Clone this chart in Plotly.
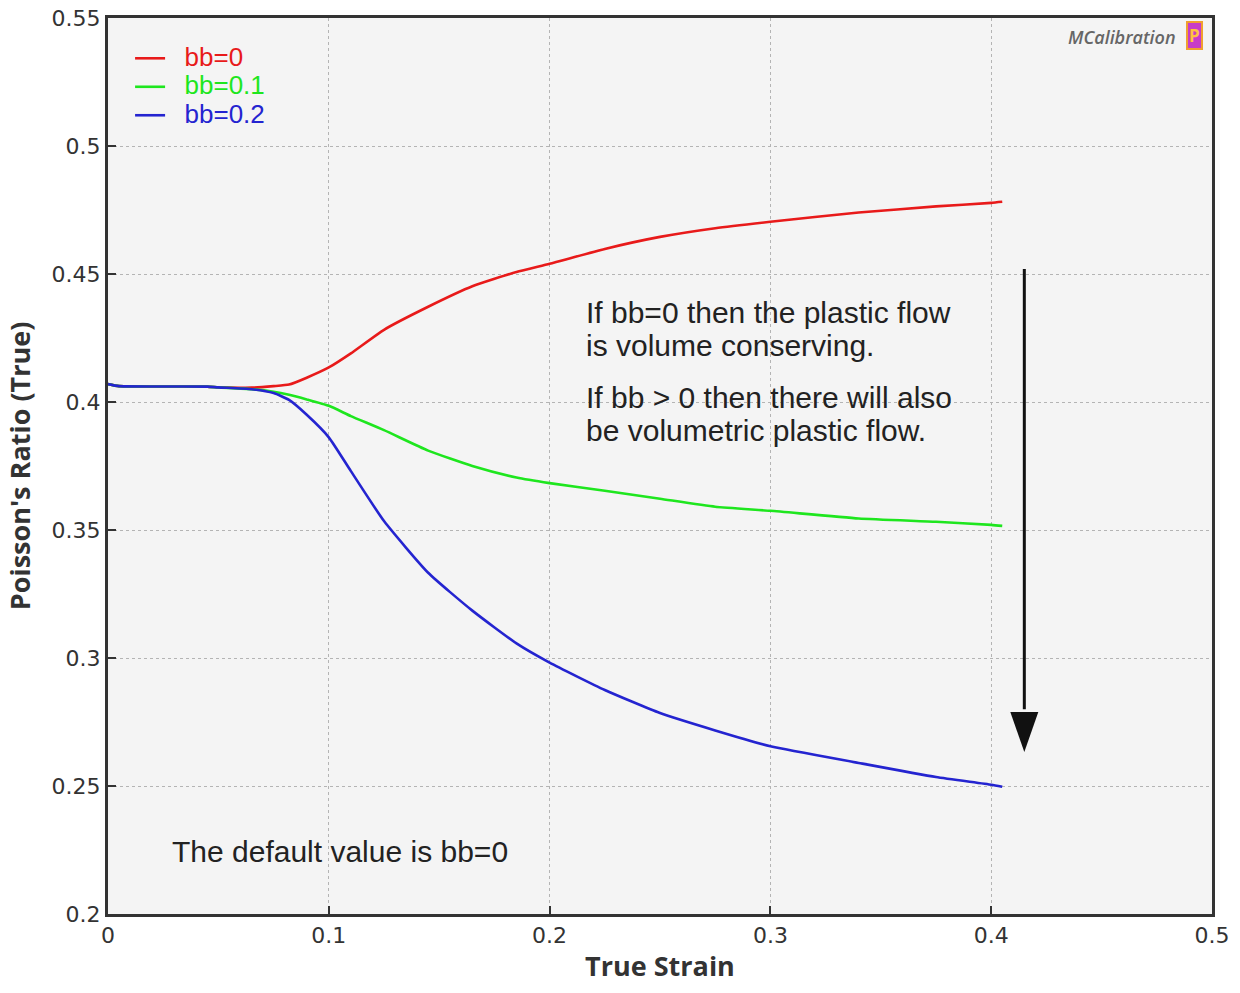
import plotly.graph_objects as go

strain = [0.0, 0.005, 0.045, 0.05, 0.065, 0.075, 0.082, 0.09, 0.1, 0.11, 0.125, 0.145,
          0.165, 0.185, 0.2, 0.225, 0.25, 0.275, 0.3, 0.34, 0.375, 0.4, 0.405]
pr_bb0 = [0.407, 0.4062, 0.4060, 0.4057, 0.4056, 0.4062, 0.4068, 0.4095, 0.4135, 0.4190,
          0.4282, 0.4372, 0.4452, 0.4508, 0.4540, 0.4598, 0.4645, 0.4679, 0.4704, 0.4740,
          0.4764, 0.4778, 0.4782]
pr_bb01 = [0.407, 0.4062, 0.4060, 0.4057, 0.4050, 0.4040, 0.4028, 0.4010, 0.3985, 0.3945,
           0.3890, 0.3810, 0.3750, 0.3705, 0.3683, 0.3653, 0.3622, 0.3591, 0.3575, 0.3545,
           0.3532, 0.3520, 0.3516]
pr_bb02 = [0.407, 0.4062, 0.4060, 0.4057, 0.4050, 0.4035, 0.4008, 0.3950, 0.3862, 0.3730,
           0.3535, 0.3333, 0.3185, 0.3057, 0.2982, 0.2875, 0.2785, 0.2717, 0.2655, 0.2590,
           0.2535, 0.2505, 0.2497]

series_names = ["bb=0", "bb=0.1", "bb=0.2"]
series_colors = ["#e81a1a", "#1ee61e", "#2424d0"]
x_ticks = [0, 0.1, 0.2, 0.3, 0.4, 0.5]
y_ticks = [0.2, 0.25, 0.3, 0.35, 0.4, 0.45, 0.5, 0.55]

fig = go.Figure()
for name, ys, col in zip(series_names, [pr_bb0, pr_bb01, pr_bb02], series_colors):
    fig.add_trace(go.Scatter(
        x=strain, y=ys, mode="lines",
        line=dict(color=col, width=2.6, shape="spline", smoothing=0.5),
        name=f"<span style='color:{col};font-size:26px'>  {name}</span>"))

axis_common = dict(
    showline=True, linewidth=3, linecolor="#333333", mirror=True,
    ticks="inside", ticklen=8, tickwidth=2, tickcolor="#333333",
    showgrid=True, gridcolor="#b4b4b4", griddash="dot", gridwidth=1,
    zeroline=False, automargin=False,
    tickfont=dict(family="DejaVu Sans", size=22, color="#333333"),
)
title_font = dict(family="Open Sans", size=27, color="#333333")

fig.update_xaxes(range=[0, 0.5], tickvals=x_ticks, ticktext=[str(v) for v in x_ticks],
                 title=dict(text="<b>True Strain</b>", font=title_font, standoff=10),
                 **axis_common)
fig.update_yaxes(range=[0.2, 0.55], tickvals=y_ticks, ticktext=[f"{v:g}" for v in y_ticks],
                 title=dict(text="<b>Poisson's Ratio (True)</b>", font=title_font, standoff=14),
                 **axis_common)

fig.update_layout(
    width=1240, height=993,
    margin=dict(l=108, r=28, t=18, b=79),
    paper_bgcolor="white", plot_bgcolor="#f4f4f4",
    legend=dict(x=0.02, y=0.9765, xanchor="left", yanchor="top",
                font=dict(family="Liberation Sans", size=19.6),
                bgcolor="rgba(0,0,0,0)", borderwidth=0, tracegroupgap=0,
                itemwidth=30),
    showlegend=True,
)

txt_font = dict(family="Liberation Sans", size=30, color="#222222")
text_lines = ["If bb=0 then the plastic flow", "is volume conserving.",
              "If bb &gt; 0 then there will also", "be volumetric plastic flow."]
text_y = [0.4348, 0.4221, 0.4016, 0.3887]
for t, yy in zip(text_lines, text_y):
    fig.add_annotation(x=0.2156, y=yy, xref="x", yref="y", xanchor="left", yanchor="middle",
                       text=t, showarrow=False, align="left", font=txt_font)
fig.add_annotation(x=0.0281, y=0.2246, xref="x", yref="y", xanchor="left", yanchor="middle",
                   text="The default value is bb=0", showarrow=False, font=txt_font)

# downward arrow: shaft + head
fig.add_annotation(x=0.415, y=0.2800, ax=0.415, ay=0.4525, xref="x", yref="y", axref="x", ayref="y",
                   text="", showarrow=True, arrowhead=0, arrowwidth=3, arrowcolor="#111111")
fig.add_shape(type="path", xref="x", yref="y", xsizemode="pixel", ysizemode="pixel",
              xanchor=0.415, yanchor=0.2633, path="M-14,40 L14,40 L0,0 Z",
              fillcolor="#111111", line=dict(width=0))

# watermark
fig.add_annotation(x=0.9692, y=0.9788, xref="paper", yref="paper", xanchor="right", yanchor="middle",
                   text="<i>MCalibration</i>", showarrow=False,
                   font=dict(family="Open Sans", size=18, color="#666666", weight=600))
fig.add_annotation(x=0.9915, y=0.9800, xref="paper", yref="paper", xanchor="right", yanchor="middle",
                   text="<b>P</b>", showarrow=False, bgcolor="#c83cc8", borderpad=1,
                   bordercolor="#f0a030", borderwidth=2,
                   font=dict(family="Open Sans", size=17, color="#ffc040"))

fig.write_html("out.html")
